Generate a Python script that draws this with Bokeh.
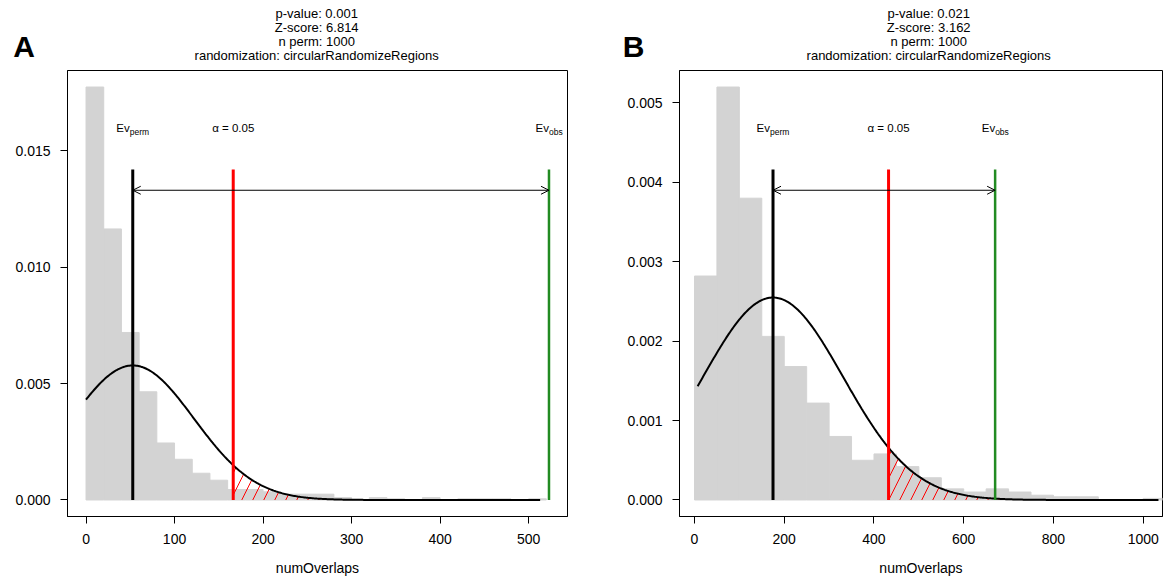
import numpy as np
from bokeh.plotting import figure
from bokeh.layouts import row, column
from bokeh.models import Range1d, FixedTicker, PrintfTickFormatter, Arrow, OpenHead
from bokeh.core.properties import value
from bokeh.embed import file_html
from bokeh.resources import INLINE

# ---------------- data ----------------
n_perm = 1000

# Panel A
a_bin_width = 20
a_counts = [355, 233, 144, 93, 49, 35, 23, 17, 9, 9, 7, 5, 5, 5, 2, 0,
            2, 1, 0, 2, 0, 1, 1, 1, 0, 1]
a_ev_perm = 52.8
a_ev_obs = 523.0
a_sd = 69.0
a_alpha_pos = 166.3
a_curve_range = [0.0, 513.0]
a_title = ["p-value:  0.001", "Z-score:  6.814", "n perm:  1000",
           "randomization:  circularRandomizeRegions"]
a_xticks = [0, 100, 200, 300, 400, 500]
a_yticks = [0.000, 0.005, 0.010, 0.015]

# Panel B
b_bin_width = 50
b_counts = [141, 260, 190, 103, 84, 61, 40, 25, 29, 21, 14, 7, 5, 7, 5, 3,
            2, 2, 0, 0, 1]
b_ev_perm = 175.0
b_ev_obs = 670.0
b_sd = 156.5
b_alpha_pos = 432.5
b_curve_range = [7.0, 1034.0]
b_title = ["p-value:  0.021", "Z-score:  3.162", "n perm:  1000",
           "randomization:  circularRandomizeRegions"]
b_xticks = [0, 200, 400, 600, 800, 1000]
b_yticks = [0.000, 0.001, 0.002, 0.003, 0.004, 0.005]

panel_letters = ["A", "B"]

FONT = "Liberation Sans"
TOTAL_W = 1163
HEADER_H = 68


def make_header():
    h = figure(width=TOTAL_W, height=HEADER_H, x_range=Range1d(0, TOTAL_W),
               y_range=Range1d(HEADER_H, 0), min_border=0,
               x_axis_type=None, y_axis_type=None,
               output_backend="svg", toolbar_location=None)
    h.outline_line_color = None
    h.background_fill_color = "white"
    h.border_fill_color = "white"
    h.xgrid.visible = False
    h.ygrid.visible = False
    for title, tx in ((a_title, 318), (b_title, 930)):
        line_y = [13 + 14 * i for i in range(len(title))]
        h.text(x=[tx] * len(title), y=line_y, text=title,
               text_font=value(FONT), text_font_size="13px",
               text_align="center", text_baseline="middle", text_color="black")
    h.text(x=[23.5, 633], y=[46, 46], text=panel_letters, text_font=value(FONT),
           text_font_size="30px", text_font_style="bold",
           text_align="center", text_baseline="middle", text_color="black")
    return h


def make_panel(counts, bw, ev_perm, ev_obs, sd, alpha_pos, crange,
               xticks, yticks, xr, frame_w, border_l, border_r):
    counts = np.array(counts, dtype=float)
    dens = counts / (n_perm * bw)
    left = np.arange(len(counts)) * bw
    right = left + bw
    ymax = dens.max()

    p = figure(frame_width=frame_w, frame_height=446,
               min_border_left=border_l, min_border_right=border_r,
               min_border_top=2, min_border_bottom=64,
               x_range=Range1d(*xr), y_range=Range1d(-0.04 * ymax, 1.04 * ymax),
               output_backend="svg", toolbar_location=None)
    p.background_fill_color = "white"
    p.border_fill_color = "white"
    p.outline_line_color = "black"
    p.outline_line_width = 1
    p.xgrid.visible = False
    p.ygrid.visible = False

    # histogram
    p.quad(left=left, right=right, bottom=0, top=dens,
           fill_color="#D3D3D3", line_color="#D3D3D3", line_width=1)

    # normal curve
    xs = np.linspace(crange[0], crange[1], 400)
    ys = np.exp(-0.5 * ((xs - ev_perm) / sd) ** 2) / (sd * np.sqrt(2 * np.pi))

    # hatched tail region
    xh = np.linspace(alpha_pos, crange[1], 300)
    yh = np.exp(-0.5 * ((xh - ev_perm) / sd) ** 2) / (sd * np.sqrt(2 * np.pi))
    p.patch(np.concatenate([[alpha_pos], xh, [crange[1]]]),
            np.concatenate([[0], yh, [0]]),
            fill_color=None, line_color=None,
            hatch_pattern="/", hatch_color="red", hatch_scale=22, hatch_weight=1)

    p.line(xs, ys, line_color="black", line_width=2)

    # vertical lines
    top = 0.8 * ymax
    p.segment(x0=[ev_perm], y0=[0], x1=[ev_perm], y1=[top], line_color="black", line_width=3)
    p.segment(x0=[alpha_pos], y0=[0], x1=[alpha_pos], y1=[top], line_color="#FF0000", line_width=3)
    p.segment(x0=[ev_obs], y0=[0], x1=[ev_obs], y1=[top], line_color="#228B22", line_width=2.5)

    # double arrow
    p.add_layout(Arrow(x_start=ev_perm, y_start=0.75 * ymax, x_end=ev_obs, y_end=0.75 * ymax,
                       line_color="black", line_width=1,
                       start=OpenHead(size=8, line_color="black", line_width=1),
                       end=OpenHead(size=8, line_color="black", line_width=1)))

    # labels in the plot
    ty = 0.9 * ymax
    p.text(x=[ev_perm, ev_obs], y=[ty, ty], text=["Ev", "Ev"], text_font=value(FONT),
           text_font_size="11.5px", text_align="right", text_baseline="middle",
           x_offset=[-3, 0], text_color="black")
    p.text(x=[ev_perm, ev_obs], y=[ty, ty], text=["perm", "obs"], text_font=value(FONT),
           text_font_size="8.5px", text_align="left", text_baseline="middle",
           x_offset=[-3, 0], y_offset=4, text_color="black")
    p.text(x=[alpha_pos], y=[ty], text=["\u03b1 = 0.05"], text_font=value(FONT),
           text_font_size="11.5px", text_align="center", text_baseline="middle",
           text_color="black")

    # axes
    for ax in (p.xaxis[0], p.yaxis[0]):
        ax.axis_line_color = "black"
        ax.major_tick_line_color = "black"
        ax.major_tick_out = 7
        ax.major_tick_in = 0
        ax.minor_tick_line_color = None
        ax.major_label_text_font = FONT
        ax.major_label_text_font_size = "14px"
        ax.major_label_text_color = "black"
        ax.major_label_standoff = 10
    p.xaxis.ticker = FixedTicker(ticks=xticks)
    p.yaxis.ticker = FixedTicker(ticks=yticks)
    p.yaxis.formatter = PrintfTickFormatter(format="%.3f")
    p.xaxis.axis_label = "numOverlaps"
    p.xaxis.axis_label_text_font = FONT
    p.xaxis.axis_label_text_font_size = "14px"
    p.xaxis.axis_label_text_font_style = "normal"
    p.xaxis.axis_label_text_color = "black"
    p.xaxis.axis_label_standoff = 13
    return p


header = make_header()
pA = make_panel(a_counts, a_bin_width, a_ev_perm, a_ev_obs, a_sd, a_alpha_pos,
                a_curve_range, a_xticks, a_yticks,
                xr=(-0.04 * a_ev_obs, 1.04 * a_ev_obs), frame_w=500,
                border_l=67, border_r=25)
pB = make_panel(b_counts, b_bin_width, b_ev_perm, b_ev_obs, b_sd, b_alpha_pos,
                b_curve_range, b_xticks, b_yticks,
                xr=(-33.4, 1043.0), frame_w=483,
                border_l=87, border_r=1)

layout = column(header, row(pA, pB))
open("out.html", "w").write(file_html(layout, INLINE))
